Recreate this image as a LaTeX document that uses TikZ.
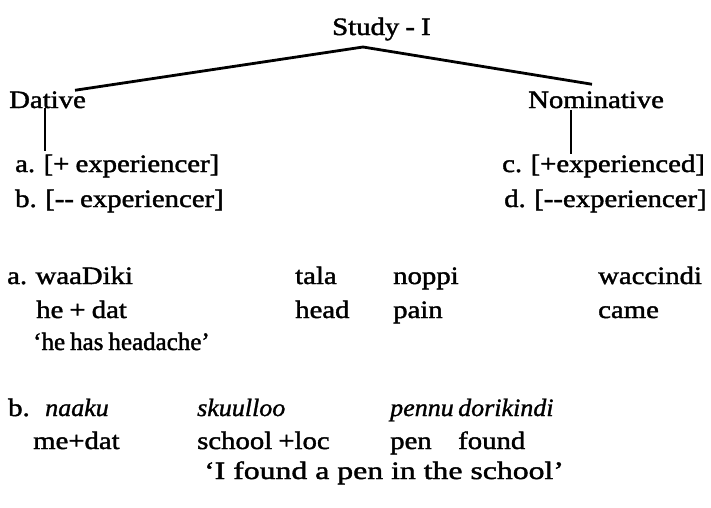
\documentclass[tikz,border=0pt]{standalone}
\usepackage{fontspec}
\setmainfont{Liberation Serif}[FakeStretch=1.15, WordSpace=0.85, FakeBold=1.6]
\newfontfamily\narrowfont{Liberation Serif}[FakeStretch=1.0, WordSpace=0.8, FakeBold=1.6]
\newfontfamily\italfont{Liberation Serif}[FakeStretch=1.04, FakeBold=1.2]
\newfontfamily\widefont{Liberation Serif}[FakeStretch=1.27, FakeBold=1.6]
\usetikzlibrary{positioning}

\begin{document}
\begin{tikzpicture}[x=1pt, y=-1pt,
    every node/.style={inner sep=0pt, anchor=base west, font=\fontsize{25}{30}\selectfont},
    branch/.style={line width=2.8pt}]
                    \useasboundingbox (0,0) rectangle (711,507);
                    % Tree labels
                    \node (study) at (332,35) {Study - I};
                    \node (dative) at (9,108) {Dative};
                    \node (nom) at (528,108) {Nominative};
                    \node (expA) at (15,172) {a. [+ experiencer]};
                    \node (expB) at (15,207) {b. [\mbox{-}\mbox{-} experiencer]};
                    \node (expC) at (502,172) {c. [+experienced]};
                    \node (expD) at (504,207) {d. [\mbox{-}\mbox{-}experiencer]};
                    
                    % Branches
                    \coordinate (apex) at (363,47);
                    \draw[branch] (apex) -- ([xshift=-11pt,yshift=1pt]dative.north east);
                    \draw[branch] (apex) -- ([yshift=7pt]nom.north -| 592,0);
                    \draw[branch] (dative.south -| 45,0) -- ([yshift=3pt]expA.north -| 45,0);
                    \draw[branch] ([yshift=-2pt]nom.south -| 571,0) -- (expC.north -| 571,0);
                    
                    % Example a
                    \node (waadiki) at (7,284) {a. waaDiki};
                    \node (tala) at (295,284) {tala};
                    \node (noppi) at (393,284) {noppi};
                    \node (waccindi) at (598,284) {waccindi};
                    \node (heDat) at (36,318) {he + dat};
                    \node (head) at (295,318) {head};
                    \node (pain) at (393,318) {pain};
                    \node (came) at (598,318) {came};
                    \node (glossA) at (33,350) {\narrowfont ‘he has headache’};
                    
                    % Example b
                    \node (exB) at (8,416) {b.};
                    \node (naaku) at (45,416) {\italfont\itshape naaku};
                    \node (skuulloo) at (197,416) {\italfont\itshape skuulloo};
                    \node (pennu) at (390,416) {\italfont\itshape pennu};
                    \node (dorikindi) at (458,416) {\italfont\itshape dorikindi};
                    \node (meDat) at (33,449) {me+dat};
                    \node (school) at (197,449) {school +loc};
                    \node (pen) at (390,449) {pen};
                    \node (found) at (458,449) {found};
                    \node (glossB) at (204,479) {\widefont ‘I found a pen in the school’};
                \end{tikzpicture}
\end{document}
